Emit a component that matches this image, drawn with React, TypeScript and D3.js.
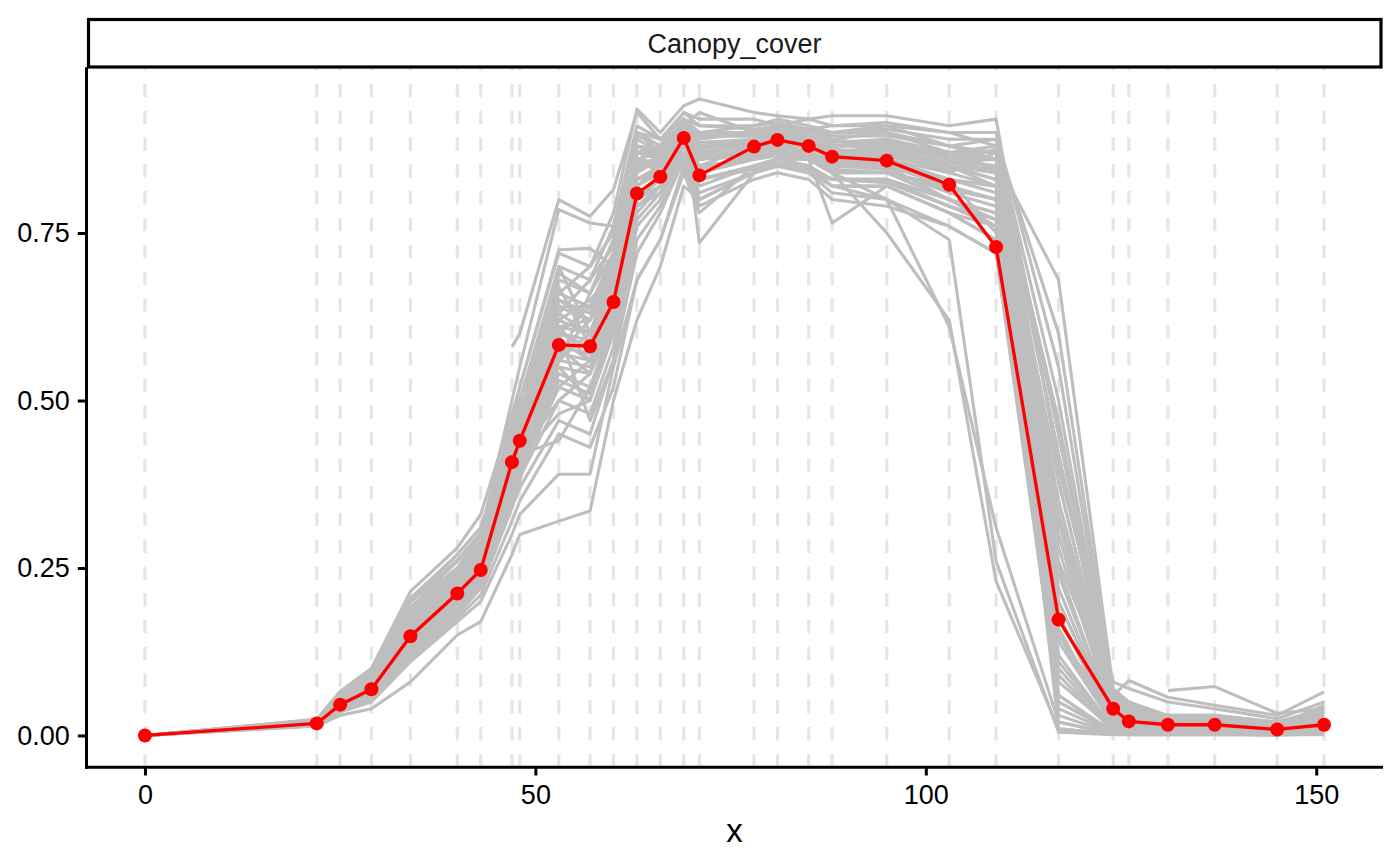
import { useEffect, useRef } from 'react';
import * as d3 from 'd3';

// sampling days (also used for the dashed guide lines)
const xDays = [0, 22, 25, 29, 34, 40, 43, 47, 48, 53, 57, 60, 63, 66, 69, 71, 78, 81, 85, 88, 95, 103, 109, 117, 124, 126, 131, 137, 145, 151];

// red summary series
const meanCover = [0, 0.018, 0.046, 0.069, 0.148, 0.212, 0.247, 0.408, 0.44, 0.583, 0.581, 0.647, 0.809, 0.834, 0.892, 0.836, 0.879, 0.889, 0.88, 0.864, 0.858, 0.822, 0.729, 0.173, 0.04, 0.021, 0.016, 0.016, 0.009, 0.016];

const N = null;
// grey individual series
const greyRuns: (number | null)[][] = [
  [0, .018, .048, .072, .150, .210, .250, .410, .440, .580, .570, .650, .820, .850, .900, .850, .880, .890, .880, .870, .860, .830, .750, .150, .030, .015, .010, .010, .005, .010],
  [N, N, N, N, N, N, N, .580, .600, .800, .775, .815, .930, .890, .920, .900, .910, .920, .910, .900, .910, .900, .880, .450, .060, .040, .030, .030, .020, .030],
  [0, .022, .060, .095, .200, .260, .300, .500, .550, .785, .765, .760, .900, .870, .910, .930, .900, .910, .900, .890, .900, .880, .860, .350, .040, .030, .020, .020, .010, .020],
  [0, .020, .055, .090, .190, .250, .300, .470, .520, .725, .727, .700, .880, .860, .900, .880, .890, .900, .890, .880, .890, .860, .840, .300, .030, .020, .015, .015, .010, .020],
  [0, .014, .030, .040, .080, .150, .170, .270, .300, .320, .335, .500, .620, .700, .820, .800, .840, .850, .840, .810, .800, .760, .720, .050, .005, .003, .003, .003, .002, .003],
  [0, .015, .035, .050, .110, .170, .200, .300, .330, .390, .390, .550, .680, .740, .840, .780, .850, .860, .850, .820, .820, .780, .740, .080, .010, .005, .005, .005, .003, .005],
  [0, .024, .062, .092, .190, .260, .300, .440, .480, .680, .660, .740, .900, .880, .930, .920, .920, .910, .920, .910, .910, .880, .870, .420, .050, .030, .025, .030, .015, .030],
  [0, .020, .050, .080, .170, .230, .270, .400, .430, .620, .600, .680, .860, .840, .890, .860, .870, .880, .890, .860, .870, .850, .820, .220, .020, .010, .010, .010, .005, .015],
  [0, .017, .042, .065, .140, .200, .240, .360, .400, .540, .520, .620, .800, .820, .880, .840, .860, .870, .870, .850, .850, .800, .780, .120, .010, .008, .008, .008, .004, .010],
  [0, .019, .045, .070, .160, .220, .260, .380, .420, .500, .480, .580, .760, .800, .870, .820, .850, .860, .860, .840, .840, .820, .800, .200, .020, .010, .008, .010, .005, .010],
  [0, .021, .052, .085, .180, .240, .280, .420, .460, .650, .630, .720, .880, .870, .910, .890, .900, .900, .900, .890, .880, .860, .850, .300, .030, .020, .015, .020, .010, .020],
  [0, .016, .038, .058, .120, .180, .220, .340, .370, .470, .450, .560, .720, .780, .860, .800, .840, .850, .840, .830, .830, .790, .760, .100, .008, .005, .005, .005, .003, .008],
  [0, .020, .050, .080, .170, .230, .270, .400, .440, .600, .580, .660, .840, .860, .920, .735, .840, .860, .860, .840, .840, .800, .760, .140, .015, .010, .010, .010, .005, .010],
  [0, .018, .046, .070, .150, .210, .250, .390, .420, .570, .560, .640, .820, .850, .890, .860, .870, .870, .860, .765, .820, .780, .740, .110, .010, .008, .006, .006, .004, .008],
  [0, .017, .044, .068, .140, .200, .240, .370, .410, .550, .540, .630, .800, .830, .880, .850, .860, .870, .860, .840, .750, .620, .230, .010, .002, .002, .002, .002, .001, .002],
  [0, .016, .040, .060, .130, .190, .230, .350, .390, .520, .500, .600, .780, .820, .870, .830, .850, .860, .850, .820, .800, .740, .260, .005, .001, .001, .001, .001, .001, .001],
  [0, .022, .058, .090, .190, .250, .290, .430, .470, .660, .640, .720, .890, .870, .910, .900, .900, .910, .900, .900, .900, .870, .860, .680, .070, .050, .030, .020, .020, .030],
  [0, .023, .060, .095, .200, .270, .310, .460, .500, .700, .680, .760, .910, .890, .920, .910, .910, .915, .905, .910, .915, .900, .900, .550, .060, .040, .030, .030, .020, .040],
  [0, .021, .054, .086, .180, .250, .290, .430, .470, .640, .620, .700, .870, .880, .910, .880, .890, .900, .890, .880, .880, .870, .880, .450, .050, .035, .025, .025, .015, .035],
  [0, .019, .048, .076, .160, .220, .260, .390, .430, .600, .590, .670, .850, .860, .900, .870, .880, .890, .880, .870, .870, .850, .830, .350, .040, .025, .020, .020, .010, .025],
  [0, .018, .044, .066, .140, .200, .240, .370, .400, .560, .550, .630, .800, .840, .880, .840, .860, .870, .860, .840, .800, .610, .310, .020, .002, .002, .002, .002, .001, .002],
  [0, .023, .064, .100, .215, .280, .330, .480, .520, .720, .700, .780, .935, .900, .940, .950, .930, .925, .920, .925, .925, .910, .920, .400, .080, .070, .050, .040, .025, .050],
  [0, .020, .050, .078, .165, .225, .265, .400, .440, .610, .600, .680, .850, .850, .890, .860, .870, .880, .870, .860, .860, .840, .820, .260, .060, .082, .057, .045, .030, .065],
  [N, N, N, N, N, N, N, N, N, N, N, N, N, N, N, N, N, N, N, N, N, N, N, N, N, N, .067, .073, .033, .040],
  [0, .015, .036, .054, .115, .175, .210, .320, .350, .450, .430, .520, .680, .740, .850, .790, .830, .840, .830, .800, .790, .760, .720, .060, .004, .003, .003, .003, .002, .003],
  [0, .017, .041, .063, .135, .195, .235, .355, .395, .530, .510, .610, .790, .810, .870, .830, .850, .860, .850, .830, .830, .800, .770, .160, .012, .008, .006, .006, .004, .008],
  [0, .022, .056, .088, .185, .245, .285, .425, .465, .640, .640, .700, .870, .860, .905, .880, .890, .895, .885, .870, .870, .850, .830, .250, .025, .015, .012, .012, .008, .015],
  [0, .021, .053, .082, .175, .235, .275, .410, .450, .620, .650, .690, .860, .870, .900, .870, .880, .880, .880, .880, .880, .860, .850, .380, .045, .025, .020, .020, .012, .020],
  [0, .019, .047, .074, .155, .215, .255, .385, .425, .560, .600, .660, .830, .840, .890, .860, .870, .880, .870, .860, .860, .830, .810, .050, .006, .004, .004, .004, .003, .005],
  [0, .020, .050, .078, .165, .225, .265, .395, .435, .590, .560, .650, .830, .850, .900, .870, .880, .890, .880, .870, .870, .840, .870, .020, .003, .002, .002, .002, .001, .002],
  [0, .022, .058, .090, .190, .250, .290, .430, .470, .700, .600, .700, .870, .860, .900, .880, .880, .890, .880, .870, .870, .850, .840, .320, .030, .020, .015, .015, .010, .020],
  [0, .016, .039, .060, .125, .185, .225, .340, .380, .600, .470, .560, .740, .790, .860, .810, .840, .850, .840, .820, .820, .780, .760, .090, .006, .004, .004, .004, .003, .006],
  [0, .018, .045, .070, .150, .210, .250, .380, .420, .440, .520, .600, .770, .810, .870, .830, .850, .860, .850, .830, .830, .800, .780, .180, .015, .010, .008, .008, .005, .010],
  [0, .020, .052, .082, .170, .230, .270, .410, .450, .670, .580, .690, .860, .870, .910, .880, .880, .890, .880, .870, .880, .860, .860, .280, .030, .015, .012, .012, .008, .020],
  [0, .024, .066, .100, .205, .270, .310, .460, .500, .660, .700, .750, .900, .890, .930, .910, .905, .910, .905, .900, .905, .890, .890, .500, .055, .035, .025, .025, .015, .045],
  [0, .019, .049, .077, .162, .222, .262, .395, .435, .610, .620, .690, .855, .860, .905, .875, .885, .890, .885, .875, .870, .850, .840, .240, .025, .012, .010, .010, .006, .012],
  [0, .021, .055, .087, .182, .242, .282, .420, .460, .630, .680, .730, .880, .875, .915, .895, .895, .900, .895, .885, .890, .870, .870, .420, .045, .030, .020, .020, .012, .030],
  [0, .017, .043, .066, .142, .202, .242, .365, .405, .520, .560, .650, .810, .830, .885, .850, .860, .870, .860, .850, .850, .820, .800, .060, .005, .003, .003, .003, .002, .004],
  [0, .018, .046, .071, .152, .212, .252, .385, .425, .580, .540, .620, .800, .840, .885, .845, .865, .875, .865, .850, .845, .810, .790, .030, .003, .002, .002, .002, .001, .003],
  [0, .020, .051, .080, .168, .228, .268, .405, .445, .650, .620, .710, .870, .865, .905, .885, .890, .895, .890, .880, .880, .860, .875, .150, .015, .008, .006, .006, .004, .008],
  [0, .022, .057, .089, .188, .248, .288, .430, .470, .690, .660, .740, .895, .880, .915, .900, .900, .905, .900, .895, .895, .880, .890, .600, .065, .045, .030, .025, .018, .035],
  [0, .016, .040, .061, .128, .188, .228, .345, .385, .500, .540, .640, .790, .820, .870, .830, .845, .855, .845, .830, .825, .790, .770, .040, .004, .002, .002, .002, .001, .003],
  [0, .019, .048, .075, .158, .218, .258, .390, .430, .570, .620, .670, .845, .855, .895, .865, .875, .885, .875, .865, .865, .845, .850, .330, .035, .020, .015, .015, .010, .020],
  [0, .021, .054, .084, .178, .238, .278, .415, .455, .550, .500, .640, .830, .850, .900, .860, .870, .880, .870, .855, .850, .830, .820, .180, .018, .010, .008, .008, .005, .012],
  [0, .023, .061, .096, .198, .262, .302, .450, .490, .610, .560, .700, .870, .870, .905, .880, .885, .890, .880, .870, .870, .855, .860, .470, .050, .030, .022, .022, .014, .028],
  [0, .018, .045, .069, .148, .208, .248, .375, .415, .480, .500, .610, .800, .830, .885, .850, .860, .865, .860, .845, .840, .815, .800, .250, .020, .010, .008, .008, .005, .010],
  [0, .020, .049, .078, .165, .225, .265, .400, .440, .630, .600, .690, .860, .855, .900, .870, .880, .890, .880, .870, .875, .855, .845, .010, .002, .001, .001, .001, .001, .002],
  [0, .022, .057, .088, .186, .246, .286, .428, .468, .560, .660, .720, .880, .870, .910, .895, .895, .900, .890, .880, .885, .865, .860, .380, .040, .025, .018, .018, .012, .025],
  [0, .017, .043, .067, .145, .205, .245, .370, .410, .600, .640, .660, .820, .840, .890, .860, .865, .875, .865, .855, .855, .830, .820, .200, .020, .010, .008, .008, .005, .012],
];

const xTicks = [0, 50, 100, 150];
const yTicks = [0, 0.25, 0.5, 0.75];
const panelTitle = 'Canopy_cover';
const xTitle = 'x';

export default function App() {
  const svgRef = useRef<SVGSVGElement>(null);

  useEffect(() => {
    if (!svgRef.current) return;
    const svg = d3.select(svgRef.current);
    svg.selectAll('*').remove();

    const width = 1400;
    const height = 866;
    const panel = { left: 86, right: 1383, top: 67.2, bottom: 767.3 };
    const font = "'Liberation Sans', Arial, Helvetica, sans-serif";

    // ggplot-style 5% expansion
    const xScale = d3.scaleLinear().domain([-7.55, 158.55]).range([panel.left, panel.right]);
    const yScale = d3.scaleLinear().domain([-0.0475, 0.9975]).range([panel.bottom, panel.top]);

    svg.append('rect').attr('width', width).attr('height', height).attr('fill', '#fff');

    // dashed guides at each sampling day
    const g = svg.append('g');
    g.selectAll('line.guide')
      .data(xDays)
      .join('line')
      .attr('class', 'guide')
      .attr('x1', (d) => xScale(d))
      .attr('x2', (d) => xScale(d))
      .attr('y1', panel.bottom)
      .attr('y2', panel.top)
      .attr('stroke', '#e5e5e5')
      .attr('stroke-width', 3.2)
      .attr('stroke-dasharray', '13.4 13.4');

    const line = d3
      .line<number | null>()
      .defined((d) => d !== null)
      .x((_, i) => xScale(xDays[i]))
      .y((d) => yScale(d as number));

    // grey runs
    g.selectAll('path.run')
      .data(greyRuns)
      .join('path')
      .attr('class', 'run')
      .attr('d', (d) => line(d))
      .attr('fill', 'none')
      .attr('stroke', '#bebebe')
      .attr('stroke-width', 3.1)
      .attr('stroke-linejoin', 'round');

    // red summary
    g.append('path')
      .attr('d', line(meanCover))
      .attr('fill', 'none')
      .attr('stroke', '#ff0000')
      .attr('stroke-width', 3.3)
      .attr('stroke-linejoin', 'round');

    g.selectAll('circle')
      .data(meanCover)
      .join('circle')
      .attr('cx', (_, i) => xScale(xDays[i]))
      .attr('cy', (d) => yScale(d))
      .attr('r', 7)
      .attr('fill', '#ff0000');

    // axes
    const xAxis = svg
      .append('g')
      .attr('transform', `translate(0,${panel.bottom})`)
      .call(d3.axisBottom(xScale).tickValues(xTicks).tickSize(8.2).tickPadding(9).tickFormat(d3.format('d')));
    xAxis.select('.domain').remove();
    xAxis.selectAll('line').attr('stroke', '#000').attr('stroke-width', 3);
    xAxis.selectAll('text').attr('font-size', 27).attr('font-family', font).attr('fill', '#000');

    const yAxis = svg
      .append('g')
      .attr('transform', `translate(${panel.left},0)`)
      .call(d3.axisLeft(yScale).tickValues(yTicks).tickSize(8.2).tickPadding(8).tickFormat(d3.format('.2f')));
    yAxis.select('.domain').remove();
    yAxis.selectAll('line').attr('stroke', '#000').attr('stroke-width', 3);
    yAxis.selectAll('text').attr('font-size', 27).attr('font-family', font).attr('fill', '#000');

    // axis lines (theme_classic)
    svg.append('line')
      .attr('x1', panel.left + 0.5).attr('x2', panel.left + 0.5)
      .attr('y1', panel.top).attr('y2', panel.bottom + 1.5)
      .attr('stroke', '#000').attr('stroke-width', 3);
    svg.append('line')
      .attr('x1', panel.left - 1).attr('x2', panel.right)
      .attr('y1', panel.bottom).attr('y2', panel.bottom)
      .attr('stroke', '#000').attr('stroke-width', 3);

    // facet strip
    svg.append('rect')
      .attr('x', 88.5)
      .attr('y', 19.5)
      .attr('width', 1381 - 88.5)
      .attr('height', 67 - 19.5)
      .attr('fill', '#fff')
      .attr('stroke', '#000')
      .attr('stroke-width', 3.2);
    svg.append('text')
      .attr('x', (panel.left + panel.right) / 2)
      .attr('y', 53)
      .attr('text-anchor', 'middle')
      .attr('font-size', 27)
      .attr('font-family', font)
      .attr('fill', '#1a1a1a')
      .text(panelTitle);

    svg.append('text')
      .attr('x', (panel.left + panel.right) / 2)
      .attr('y', 842)
      .attr('text-anchor', 'middle')
      .attr('font-size', 33)
      .attr('font-family', font)
      .attr('fill', '#000')
      .text(xTitle);
  }, []);

  return (
    <svg
      ref={svgRef}
      width={1400}
      height={866}
      style={{ position: 'absolute', left: 0, top: 0, display: 'block' }}
    />
  );
}
